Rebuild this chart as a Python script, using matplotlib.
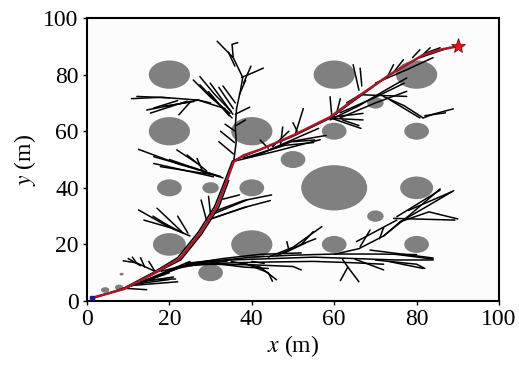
import matplotlib
matplotlib.use("Agg")
import matplotlib.pyplot as plt
from matplotlib.patches import Ellipse

plt.rcParams["font.family"] = ["Liberation Serif", "DejaVu Serif"]
plt.rcParams["mathtext.fontset"] = "stix"

# ---------------- data ----------------
# circular obstacles: centre x, centre y, radius (m)
obs_x = [20, 20, 40, 60, 80, 70, 60, 80, 50, 60, 80, 70, 80, 60, 40, 20, 30, 20, 30, 40, 4.4, 7.8, 8.4]
obs_y = [80, 60, 60, 80, 80, 70, 60, 60, 50, 40, 40, 30, 20, 20, 20, 20, 10, 40, 40, 40, 3.9, 4.8, 9.5]
obs_r = [5, 5, 5, 5, 5, 2, 3, 3, 3, 8, 4, 2, 3, 3, 5, 4, 3, 3, 2, 3, 1, 1, 0.5]

# final path from start to goal
path_x = [1.5, 5, 9, 15, 22.5, 27.4, 31.5, 34, 35.6, 38, 42, 50, 59, 66, 73.5, 77.6, 81.6, 85.7, 90]
path_y = [1.2, 2.6, 4.3, 8.8, 15, 23.9, 33.3, 42.8, 49.2, 51.5, 53.5, 58.5, 65, 72.5, 80, 83.5, 87, 88.8, 90]

start = (1.2, 1.0)
goal = (90, 90)

# explored tree, grouped by region; each entry is one polyline [(x, y), ...]
trunk_branches = [
    [(1.5, 1.0), (9, 4.6), (16, 10), (22, 15.3), (27, 24.3), (31, 33.5), (33.6, 43), (35.3, 49.5), (40, 52.3), (50, 58.2), (59, 64.6), (73, 79.5), (80, 85.6), (88, 89.6)],
    [(1.5, 1.3), (9, 4.2), (16, 9.4), (22.8, 14.6), (27.8, 23.6), (32, 33.2), (34.4, 42.6)],
    [(9, 4.5), (20, 10)], [(9, 4.5), (22, 11.5)], [(10, 5), (24, 12.6)], [(12, 6), (25, 14)],
    [(9, 4.5), (14.5, 4.0)], [(11, 5.5), (22, 6.8)], [(12, 6.5), (21, 8.5)], [(14, 7), (19, 9.5)],
    [(13, 6.2), (20, 7.6)], [(15, 7.5), (21.5, 7.8)],
    [(16.5, 10.5), (12, 13.5), (8.8, 14.2)], [(12, 13.5), (11, 15.5)], [(14, 12), (13, 15.3)],
    [(16.5, 10.5), (15, 14)], [(13, 12.5), (10, 15)],
]

south_branches = [
    [(18, 10.5), (26, 13.5), (35, 14.5), (45, 15), (55, 15.5), (65, 15), (75, 14.5), (84, 14.5)],
    [(22, 12), (30, 14), (40, 15.5), (50, 16.2), (60, 16.6), (70, 16.6), (80, 16.4)],
    [(25, 12.5), (35, 13.5), (45, 13.8), (55, 14), (65, 13.5), (72, 13)],
    [(24, 13), (33, 15), (42, 16.5), (52, 17)],
    [(28, 13), (40, 12.8), (50, 12.2), (52, 11)],
    [(30, 13.5), (38, 12), (44, 11.5)],
    [(20, 11), (27, 13), (34, 14)], [(24, 13.3), (31.6, 14.5)],
    [(35, 14), (42, 12), (46, 7.5)], [(38, 13.5), (44, 10), (45, 7)], [(40, 14), (43, 13.3)],
    [(62, 14.8), (63.3, 12)], [(61.5, 7.2), (63.3, 12), (66, 6.8)],
    [(65, 14.8), (72, 11)], [(70, 14.5), (80, 13), (82, 11.5)], [(75, 16.5), (84, 14.8)],
    [(68.7, 18), (84, 15.2)], [(73.5, 13.9), (81.6, 11.5)],
    [(44, 15.5), (50, 19), (57, 26.3)], [(46, 16), (52, 20), (55.5, 22)], [(48, 17), (53, 20.5)],
    [(49, 18), (48.5, 21)], [(52, 20), (54.9, 24.5)],
    [(60, 16.5), (66, 18.5), (72, 23), (76, 28), (82, 33), (89, 39)],
    [(72, 23), (78, 30), (85.7, 39.6)], [(76, 28), (83, 31.5), (90, 29)],
    [(74.4, 29.2), (89.3, 28.6)], [(75.2, 29.8), (85.7, 39.2)], [(78, 32), (88.5, 38.6)],
    [(65.4, 21), (75.2, 28.6)], [(66.3, 19.2), (68.7, 25.1)], [(71, 22), (72, 26)],
]

diagonal_branches = [
    [(30, 29), (38, 33), (44.5, 35.5)], [(31.5, 32), (38, 35.5), (44.8, 37.5)], [(33, 36), (37, 37.5)],
    [(29, 28.5), (38.8, 33.3)], [(31, 31), (38.8, 35.7)],
    [(25, 23), (20, 26), (12.5, 32.2)], [(20, 26), (13.8, 28.6)], [(23, 24.5), (17, 32.8)],
    [(24.5, 24), (22, 30)], [(18.6, 27.5), (23.5, 23.9)], [(21, 25.5), (16, 30)],
    [(29, 28.6), (27.7, 35.7)], [(30, 30.5), (29.5, 37)],
]

west_branches = [
    [(33, 43.5), (26, 47), (16.2, 51)], [(32.4, 44), (22, 48.5), (12.5, 53.6)],
    [(30.7, 43.9), (16.2, 48.6)], [(31, 44.5), (17.8, 47.5)], [(32, 44), (20, 50)],
    [(26.7, 48.7), (21.8, 53.4)], [(28.3, 45.1), (26.7, 50.4)], [(29, 46), (24.3, 51.6)],
]

north_branches = [
    [(35.6, 49.2), (36.2, 56), (36, 62), (36.3, 68), (37.2, 74), (37.8, 79), (35.5, 86), (31.6, 91.8)],
    [(35.5, 86), (35.2, 90.7), (36.6, 91.3)], [(35.9, 83), (34.3, 88)],
    [(37.5, 79), (40, 80.5), (42.8, 82.3)], [(38, 77), (39.8, 83)], [(37, 73), (38.5, 78)],
    [(34.7, 66.3), (30, 72), (25.8, 78.1)], [(35, 67), (31, 73), (27.4, 79.3)],
    [(34.5, 65.5), (29.5, 74)], [(35.5, 68), (32, 75.5)], [(35.2, 64.7), (27.4, 76.4)],
    [(35.4, 66), (29.9, 77)], [(36, 70), (33, 76)],
    [(33.5, 68), (27, 71), (18, 72), (10.8, 71.5)], [(27, 71), (14.5, 67.5)], [(24.3, 70.6), (15.4, 66.4)],
    [(22, 70.8), (16.2, 68.2)], [(26, 70.5), (18.6, 68.8)], [(25, 70.2), (22.3, 65.8)],
    [(20, 71.8), (12.1, 72.3)], [(30, 70), (26.7, 71.1)],
    [(36, 66), (39.5, 68.5)], [(36.2, 62), (38.5, 64)],
    [(35.5, 52), (32, 56.3)], [(35.8, 56), (32.4, 60)], [(36, 60), (33.5, 62.5)],
]

east_branches = [
    [(36, 49.5), (46, 53), (56.6, 57)], [(38, 50.5), (48, 55), (55, 56)], [(40, 51), (50, 56.5), (58, 58.5)],
    [(42, 52), (56.2, 61)], [(44, 54), (42, 56.9)], [(50, 56.3), (55.3, 56.9)],
    [(47, 55.5), (47.5, 61.5)], [(50.5, 58.7), (52.5, 68)], [(51, 60), (50, 63)], [(45, 54.5), (49, 60)],
    [(59.4, 65.5), (59, 72.2)], [(60.5, 66), (61.5, 71.5)],
    [(59.5, 65), (67, 66.3)], [(59.5, 64.5), (66.5, 61)], [(60, 64.5), (67, 64)], [(62, 64), (66, 62)],
    [(59, 64), (66, 69), (73, 75), (77.6, 78.8)], [(61.4, 66.5), (70, 72), (77, 77)],
    [(61.4, 64.7), (70, 70), (77.6, 74.1)], [(63, 70), (66.3, 72.9), (77.6, 72.3)],
    [(71.9, 72.3), (77, 69), (81.6, 64.7)], [(73.5, 71.1), (80.8, 64.7)],
    [(81.6, 64.7), (84, 66), (88.9, 67.9)], [(82, 65.5), (87, 66.5)],
    [(66, 74.5), (64.6, 83.5)], [(66.7, 76), (66.3, 82.3)],
    [(73, 79.5), (74.4, 83.5)], [(74.5, 81), (76.8, 85.3)],
    [(79, 86), (80.8, 88.8)], [(81.5, 87), (83.3, 89.5)], [(82, 87.5), (85.7, 89.5)],
    [(70, 77), (78, 82), (84, 86)],
]

tree_groups = [trunk_branches, south_branches, diagonal_branches, west_branches, north_branches, east_branches]

tick_values = [0, 20, 40, 60, 80, 100]

# ---------------- drawing ----------------
fig = plt.figure(figsize=(5.19, 3.65), dpi=100)
ax = fig.add_axes([0.1676, 0.1753, 0.7939, 0.7753])
ax.set_facecolor("#fcfcfc")

for cx, cy, r in zip(obs_x, obs_y, obs_r):
    ax.add_patch(Ellipse((cx, cy), 2 * r, 2 * r, facecolor="#808080", edgecolor="none", zorder=1))

for group in tree_groups:
    for branch in group:
        xs = [p[0] for p in branch]
        ys = [p[1] for p in branch]
        ax.plot(xs, ys, color="black", lw=1.1, solid_capstyle="round", zorder=2)

ax.plot(path_x, path_y, color="#a8182c", lw=1.8, zorder=3)
ax.plot(*start, marker="s", ms=3.5, color="#1a1a8c", zorder=4)
ax.plot(*goal, marker="*", ms=11, markerfacecolor="#e3141c", markeredgecolor="#5a0000",
        markeredgewidth=0.5, zorder=5)

ax.set_xlim(0, 100)
ax.set_ylim(0, 100)
ax.set_xticks(tick_values)
ax.set_yticks(tick_values)
ax.tick_params(direction="out", length=3, width=1, labelsize=17, pad=3)
for s in ax.spines.values():
    s.set_linewidth(1.5)

ax.set_xlabel("$x$ (m)", fontsize=17, labelpad=2)
ax.set_ylabel("$y$ (m)", fontsize=17, labelpad=4)

fig.savefig("out.png", dpi=100)
